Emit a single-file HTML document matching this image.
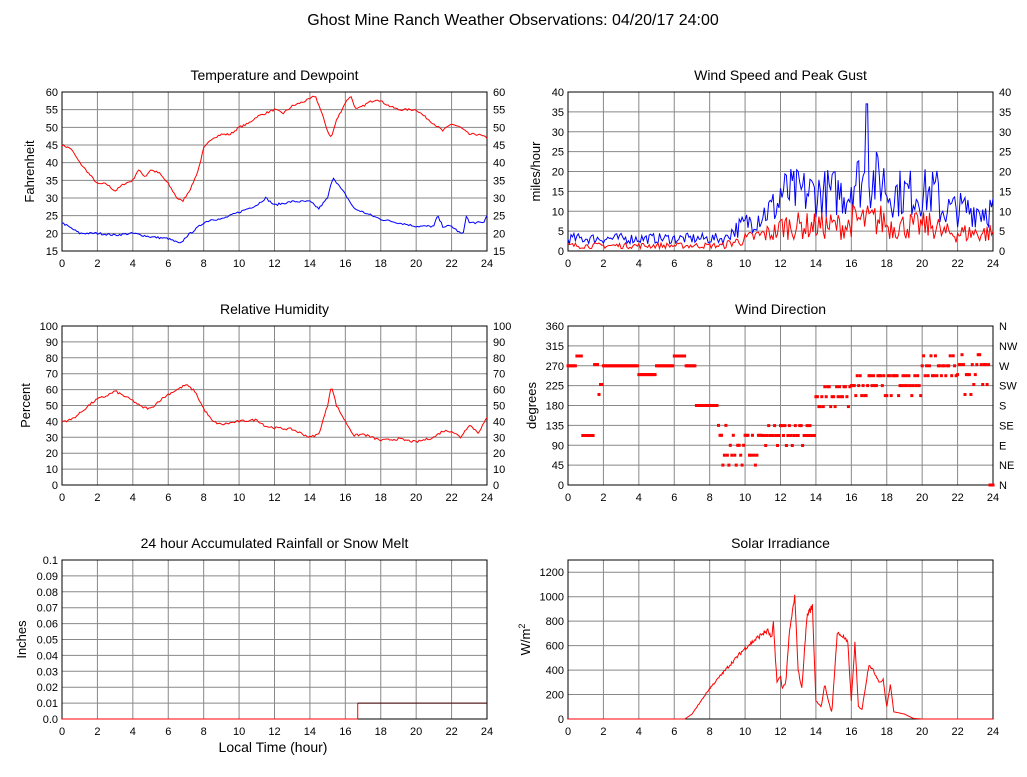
<!DOCTYPE html>
<html><head><meta charset="utf-8"><style>
body{margin:0;background:#fff;}
svg text{font-family:"Liberation Sans",sans-serif;fill:#000;}
</style></head><body>
<svg id="s" width="1027" height="772" xmlns="http://www.w3.org/2000/svg"></svg>
<script>
var S=document.getElementById('s'),out='';
var seed=7;function rnd(){seed=(seed*16807)%2147483647;return seed/2147483647;}
function interp(pts,h){for(var i=0;i<pts.length-1;i++){if(h>=pts[i][0]&&h<=pts[i+1][0]){var t=(h-pts[i][0])/(pts[i+1][0]-pts[i][0]||1);return pts[i][1]+t*(pts[i+1][1]-pts[i][1]);}}return pts[pts.length-1][1];}
function panel(o){
 var x0=o.x,y0=o.y,w=425,h=159;o.w=w;o.h=h;
 out+='<text x="'+(x0+w/2)+'" y="'+(y0-12)+'" font-size="14" text-anchor="middle">'+o.title+'</text>';
 for(var i=0;i<=12;i++){var x=x0+w*i/12;out+='<line x1="'+x+'" y1="'+y0+'" x2="'+x+'" y2="'+(y0+h)+'" stroke="#888"/>';
  out+='<text x="'+x+'" y="'+(y0+h+16)+'" font-size="11" text-anchor="middle">'+(2*i)+'</text>';}
 for(var j=0;j<o.ticks.length;j++){var y=o.Y(o.ticks[j]);out+='<line x1="'+x0+'" y1="'+y+'" x2="'+(x0+w)+'" y2="'+y+'" stroke="#888"/>';
  out+='<text x="'+(x0-4)+'" y="'+(y+4)+'" font-size="11" text-anchor="end">'+(o.lab?o.lab[j]:o.ticks[j])+'</text>';
  if(o.right)out+='<text x="'+(x0+w+6)+'" y="'+(y+4)+'" font-size="11">'+o.right[j]+'</text>';}
 out+='<rect x="'+x0+'" y="'+y0+'" width="'+w+'" height="'+h+'" fill="none" stroke="#000"/>';
 out+='<text transform="translate('+(x0-o.yoff)+','+(y0+h/2)+') rotate(-90)" font-size="13" text-anchor="middle">'+o.ylab+'</text>';
 return o;}
function mk(x,y,min,max){return function(v){return y+159-(v-min)/(max-min)*159;};}
function X(o,hr){return o.x+hr/24*425;}
function line(o,f,col,n){var p=[];n=n||600;for(var i=0;i<=n;i++){var hr=24*i/n;p.push(X(o,hr).toFixed(1)+','+o.Y(f(hr)).toFixed(1));}out+='<polyline points="'+p.join(' ')+'" fill="none" stroke="'+col+'" stroke-width="1"/>';}
function rng(a,b,s){var r=[];for(var v=a;v<=b+1e-9;v+=s)r.push(+v.toFixed(2));return r;}
out+='<text x="513" y="25" font-size="16" text-anchor="middle">Ghost Mine Ranch Weather Observations: 04/20/17 24:00</text>';
var t=rng(15,60,5);var p1=panel({x:62,y:92,title:'Temperature and Dewpoint',ticks:t,right:t,ylab:'Fahrenheit',yoff:28,Y:mk(62,92,15,60)});
var T=[[0,45],[0.5,44],[1,40],[1.5,37],[2,34],[2.5,34],[3,32],[3.5,34],[4,35],[4.3,38],[4.7,36],[5,38],[5.5,37],[6,34],[6.5,30],[6.8,29],[7.3,33],[7.7,38],[8,44],[8.5,47],[9,48],[9.5,48],[10,50],[10.5,51],[11,53],[11.5,54],[12,55],[12.5,54],[13,56],[13.5,57],[14,58],[14.3,59],[14.6,55],[15,49],[15.2,47],[15.5,52],[16,57],[16.3,59],[16.6,55],[17,56],[17.3,57],[17.8,58],[18.5,56],[19,55],[20,55],[20.5,53],[21,51],[21.5,49],[22,51],[22.5,50],[23,48],[23.5,48],[24,47]];
line(p1,function(h){return interp(T,h)+(rnd()-0.5)*0.6;},'red',288);
var D=[[0,23],[1,20],[2,20],[3,19.5],[4,20],[5,19],[6,18.5],[6.7,17],[7,19],[8,23],[8.5,24],[9,24],[10,26],[11,28],[11.5,30],[12,28],[13,29],[14,29],[14.5,27],[15,30],[15.3,36],[15.7,33],[16,31],[16.5,27],[17,26],[17.5,25],[18,24],[19,23],[20,22],[21,22],[21.2,25],[21.5,22],[22,22],[22.5,20],[22.7,20],[22.8,25.5],[23,23],[23.8,23],[24,25]];
line(p1,function(h){return interp(D,h)+(rnd()-0.5)*0.6;},'blue',288);
var w=rng(0,40,5);var p2=panel({x:568,y:92,title:'Wind Speed and Peak Gust',ticks:w,right:w,ylab:'miles/hour',yoff:28,Y:mk(568,92,0,40)});
function gb(h){if(h<9)return 3;if(h<12)return 4+(h-9)*2.5;if(h<16)return 14;if(h<18)return 17;if(h<21)return 14;return 10;}
line(p2,function(h){var v=gb(h)+(rnd()-0.45)*gb(h)*0.9;if(h>16.8&&h<17)v=37;return Math.max(0,Math.min(40,v));},'blue',288);
line(p2,function(h){var v=gb(h)*0.45+(rnd()-0.5)*gb(h)*0.5;return Math.max(0,v);},'red',288);
var r=rng(0,100,10);var p3=panel({x:62,y:326,title:'Relative Humidity',ticks:r,right:r,ylab:'Percent',yoff:32,Y:mk(62,326,0,100)});
var R=[[0,40],[0.5,41],[1,45],[1.5,50],[2,54],[2.5,56],[3,59],[3.5,56],[4,53],[4.5,49],[5,48],[5.5,53],[6,57],[6.5,60],[7,63],[7.5,59],[8,48],[8.5,40],[9,38],[10,40],[11,41],[11.5,37],[12,36],[13,35],[14,30],[14.5,32],[15,50],[15.2,63],[15.5,50],[16,40],[16.5,31],[17,32],[18,28],[19,29],[20,27],[21,30],[21.5,34],[22,34],[22.5,30],[23,38],[23.5,33],[24,42]];
line(p3,function(h){return interp(R,h)+(rnd()-0.5)*1.5;},'red',288);
var d=rng(0,360,45);var p4=panel({x:568,y:326,title:'Wind Direction',ticks:d,right:['N','NE','E','SE','S','SW','W','NW','N'],ylab:'degrees',yoff:32,Y:mk(568,326,0,360)});
function dir(h){var c=[270,45];
 if(h<0.5)c=[270,0];else if(h<0.8)c=[292,0];else if(h<1.5)c=[112,0];else if(h<2)c=[250,40];else if(h<4)c=[270,0];else if(h<5)c=[250,0];else if(h<6)c=[270,0];else if(h<6.6)c=[292,0];else if(h<7.2)c=[270,0];else if(h<8.5)c=[180,0];else if(h<11)c=[90,50];else if(h<14)c=[112,25];else if(h<16)c=[200,25];else if(h<20)c=[225,30];else if(h<22)c=[270,25];else if(h<23.8)c=[250,40];else c=[0,0];
 var v=c[0]+Math.round((rnd()-0.5)*2*c[1]/22.5)*22.5;return Math.max(0,Math.min(360,v));}
for(var i=0;i<=288;i++){var hh=24*i/288,v=dir(hh);out+='<rect x="'+(X(p4,hh)-1.5).toFixed(1)+'" y="'+(p4.Y(v)-1.5).toFixed(1)+'" width="3" height="3" fill="red"/>';}
var rr=rng(0,0.1,0.01);var p5=panel({x:62,y:560,title:'24 hour Accumulated Rainfall or Snow Melt',ticks:rr,lab:rr.map(function(v){return v===0?'0.0':String(v);}),ylab:'Inches',yoff:36,Y:mk(62,560,0,0.1)});
var xr=X(p5,16.7);
out+='<line x1="62" y1="719" x2="'+xr+'" y2="719" stroke="red"/><line x1="'+xr+'" y1="719" x2="'+xr+'" y2="703" stroke="red"/><line x1="'+xr+'" y1="'+p5.Y(0.01)+'" x2="487" y2="'+p5.Y(0.01)+'" stroke="#400"/>';
var sv=rng(0,1200,200);var p6=panel({x:568,y:560,title:'Solar Irradiance',ticks:sv,ylab:'W/m<tspan font-size="9" dy="-5">2</tspan>',yoff:38,Y:mk(568,560,0,1300)});
var SO=[[0,0],[6.6,0],[7,40],[8,250],[9,420],[10,580],[11,700],[11.3,720],[11.5,650],[11.6,780],[11.8,300],[12,350],[12.1,250],[12.3,300],[12.5,700],[12.8,1000],[13,400],[13.2,250],[13.5,850],[13.8,920],[14,150],[14.3,100],[14.5,280],[14.7,150],[14.9,50],[15.2,700],[15.5,680],[15.8,620],[16,150],[16.2,620],[16.4,100],[16.6,80],[17,450],[17.3,380],[17.6,300],[17.8,320],[18,100],[18.2,280],[18.4,60],[19,40],[19.5,5],[20,0],[24,0]];
line(p6,function(h){var v=interp(SO,h);return v>50?v*(1+(rnd()-0.5)*0.06):v;},'red',600);
out+='<text x="273" y="752" font-size="14" text-anchor="middle">Local Time (hour)</text>';
S.innerHTML=out;
</script>
</body></html>
